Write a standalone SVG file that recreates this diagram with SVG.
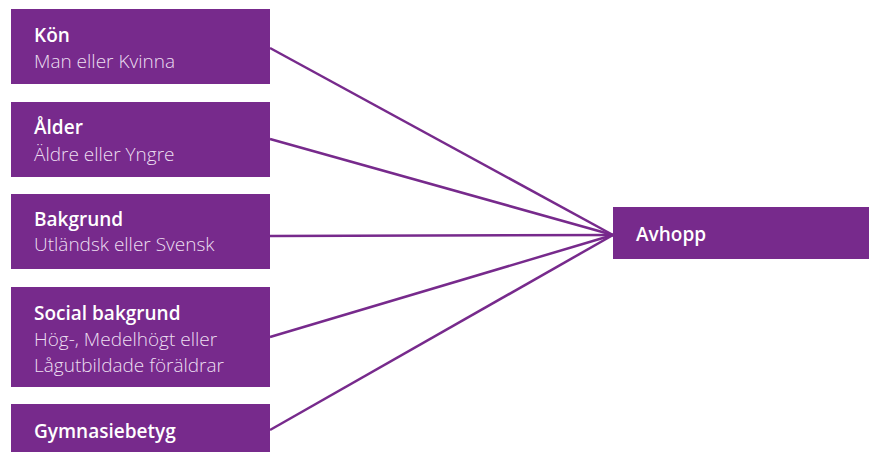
<svg xmlns="http://www.w3.org/2000/svg" width="869" height="452" viewBox="0 0 869 452">
<style>
.box{fill:#772a8c}
.t{font-family:"Open Sans","Liberation Sans",sans-serif;font-size:19px;font-weight:600;fill:#ffffff}
.s{font-family:"Open Sans","Liberation Sans",sans-serif;font-size:19px;font-weight:300;fill:#ecdff1}
.c line{stroke:#772a8c;stroke-width:2.5}
</style>
<rect width="869" height="452" fill="#ffffff"/>
<g class="c" id="connectors">
<line x1="270" y1="48" x2="613" y2="235"/>
<line x1="270" y1="139" x2="613" y2="235"/>
<line x1="270" y1="236" x2="613" y2="235"/>
<line x1="270" y1="337" x2="613" y2="235"/>
<line x1="270" y1="430" x2="613" y2="235"/>
</g>
<g id="kon"><rect class="box" x="11" y="9" width="259" height="75"/><text class="t" x="34" y="42">Kön</text><text class="s" x="34" y="68">Man eller Kvinna</text></g>
<g id="alder"><rect class="box" x="11" y="102" width="259" height="75"/><text class="t" x="34" y="134">Ålder</text><text class="s" x="34" y="161">Äldre eller Yngre</text></g>
<g id="bakgrund"><rect class="box" x="11" y="194" width="259" height="75"/><text class="t" x="34" y="226">Bakgrund</text><text class="s" x="34" y="251">Utländsk eller Svensk</text></g>
<g id="social"><rect class="box" x="11" y="287" width="259" height="100"/><text class="t" x="34" y="320">Social bakgrund</text><text class="s" x="34" y="346">Hög-, Medelhögt eller</text><text class="s" x="34" y="372">Lågutbildade föräldrar</text></g>
<g id="gymnasiebetyg"><rect class="box" x="11" y="404" width="259" height="48"/><text class="t" x="34" y="438">Gymnasiebetyg</text></g>
<g id="avhopp"><rect class="box" x="613" y="207" width="256" height="52"/><text class="t" x="636" y="241">Avhopp</text></g>
</svg>
